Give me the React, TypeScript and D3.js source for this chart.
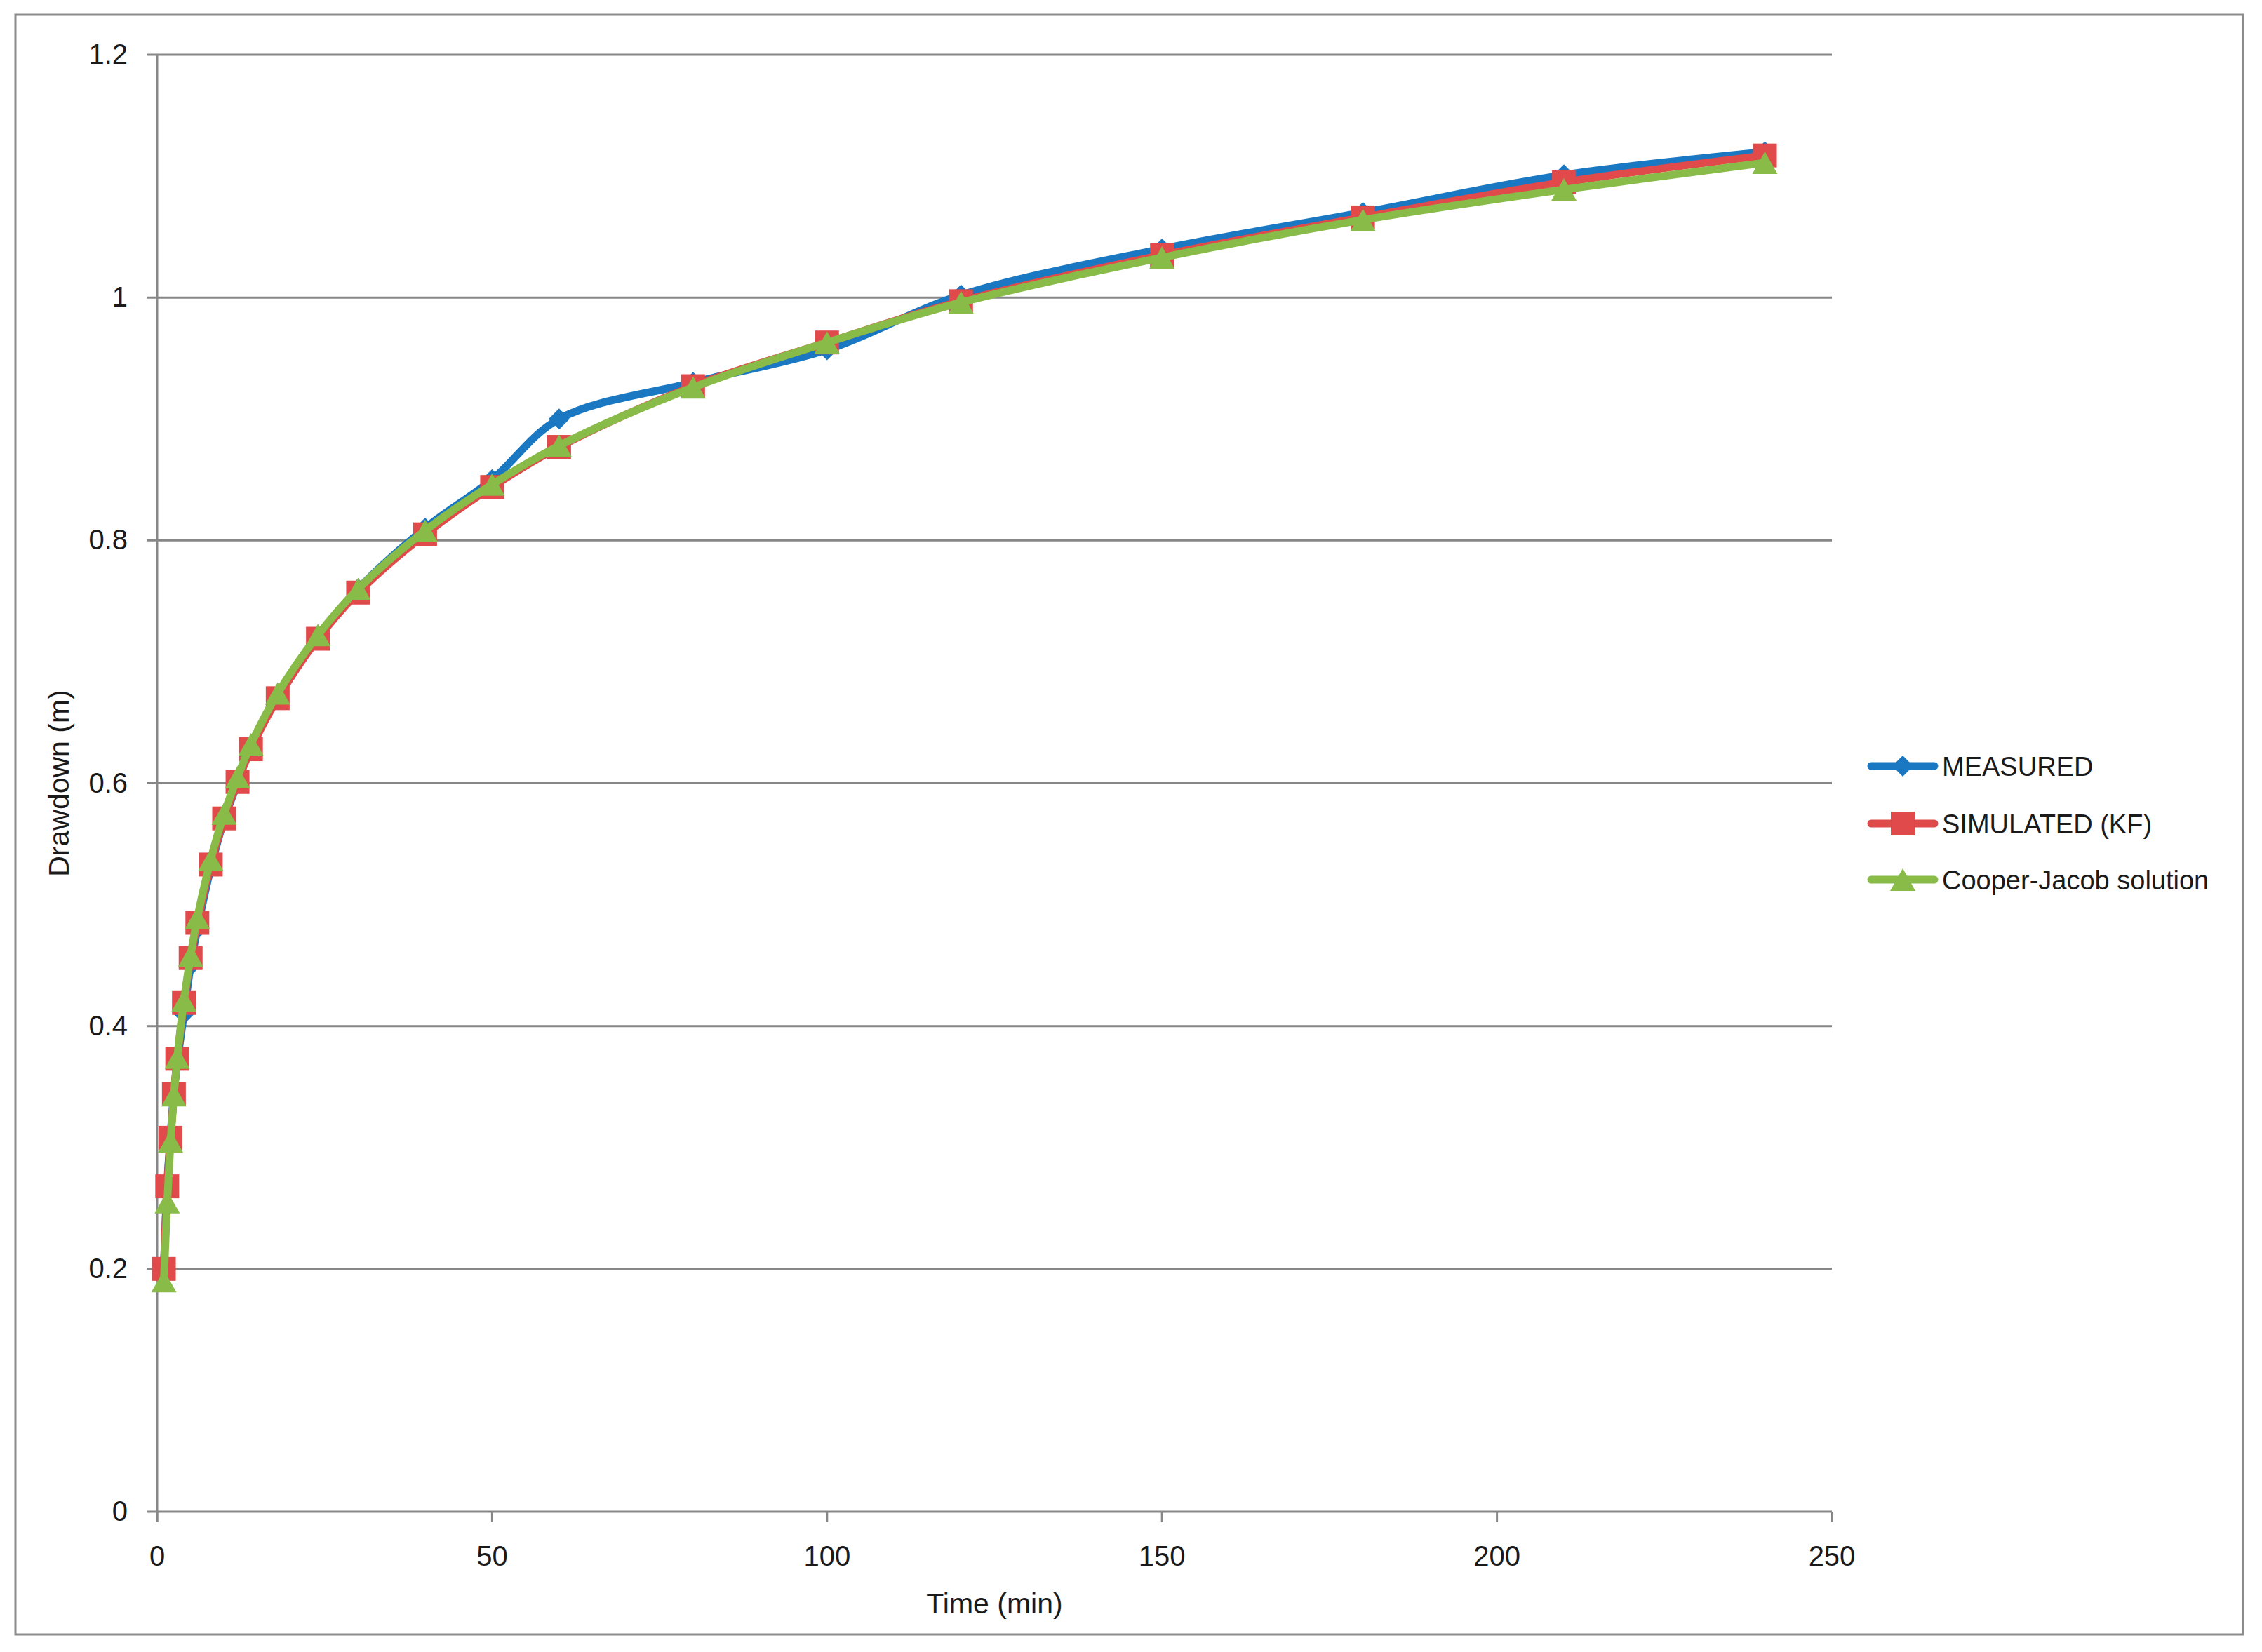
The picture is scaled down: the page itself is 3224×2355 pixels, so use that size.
import React from "react";
import * as d3 from "d3";

const times = [1, 1.5, 2, 2.5, 3, 4, 5, 6, 8, 10, 12, 14, 18, 24, 30, 40, 50, 60, 80, 100, 120, 150, 180, 210, 240];
const measured = [0.2, 0.27, 0.31, 0.345, 0.37, 0.41, 0.45, 0.48, 0.53, 0.57, 0.6, 0.63, 0.67, 0.72, 0.76, 0.81, 0.85, 0.9, 0.93, 0.957, 1.002, 1.04, 1.07, 1.101, 1.12];
const simulated = [0.2, 0.268, 0.308, 0.344, 0.373, 0.419, 0.456, 0.485, 0.533, 0.571, 0.601, 0.628, 0.67, 0.719, 0.757, 0.805, 0.844, 0.877, 0.927, 0.963, 0.997, 1.035, 1.066, 1.095, 1.117];
const cooperJacob = [0.19, 0.255, 0.305, 0.343, 0.374, 0.421, 0.458, 0.489, 0.537, 0.575, 0.605, 0.632, 0.674, 0.722, 0.76, 0.808, 0.846, 0.878, 0.926, 0.963, 0.996, 1.033, 1.064, 1.089, 1.111];
const seriesNames = ["MEASURED", "SIMULATED (KF)", "Cooper-Jacob solution"];
const xTicks = [0, 50, 100, 150, 200, 250];
const yTicks = [0, 0.2, 0.4, 0.6, 0.8, 1, 1.2];

const W = 3224;
const H = 2355;
const plot = { left: 224, right: 2611, top: 78, bottom: 2155 };
const colors = ["#1a78c2", "#e04a4a", "#88bb47"];
const gridColor = "#878787";
const font = "'Liberation Sans', Arial, sans-serif";

function Marker({ kind, x, y, color }: { kind: number; x: number; y: number; color: string }) {
  if (kind === 0) {
    const r = 15;
    return <path d={`M${x},${y - r}L${x + r},${y}L${x},${y + r}L${x - r},${y}Z`} fill={color} />;
  }
  if (kind === 1) {
    const s = 34;
    return <rect x={x - s / 2} y={y - s / 2} width={s} height={s} fill={color} />;
  }
  const w = 36;
  const h = 32;
  return <path d={`M${x},${y - h / 2}L${x + w / 2},${y + h / 2}L${x - w / 2},${y + h / 2}Z`} fill={color} />;
}

export default function App() {
  const x = d3.scaleLinear().domain([0, 250]).range([plot.left, plot.right]);
  const y = d3.scaleLinear().domain([0, 1.2]).range([plot.bottom, plot.top]);
  const all = [measured, simulated, cooperJacob];
  const line = d3
    .line<number>()
    .x((_, i) => x(times[i]))
    .y((d) => y(d))
    .curve(d3.curveCatmullRom.alpha(0.5));

  const legendRows = [1092, 1174, 1254];

  return (
    <svg width={W} height={H} style={{ position: "absolute", left: 0, top: 0, background: "#fff" }}>
      <rect x={0} y={0} width={W} height={H} fill="#fff" />
      <rect x={22} y={21} width={3175} height={2309} fill="none" stroke="#8c8c8c" strokeWidth={3} />
      {yTicks.map((t) => (
        <g key={"y" + t}>
          <line x1={plot.left - 15} x2={plot.right} y1={y(t)} y2={y(t)} stroke={gridColor} strokeWidth={3} />
          <text x={182} y={y(t) + 13} textAnchor="end" fontFamily={font} fontSize={40} fill="#1a1a1a">
            {d3.format("~g")(t)}
          </text>
        </g>
      ))}
      <line x1={plot.left} x2={plot.left} y1={plot.top} y2={plot.bottom + 15} stroke={gridColor} strokeWidth={3} />
      {xTicks.map((t) => (
        <g key={"x" + t}>
          <line x1={x(t)} x2={x(t)} y1={plot.bottom} y2={plot.bottom + 15} stroke={gridColor} strokeWidth={3} />
          <text x={x(t)} y={2232} textAnchor="middle" fontFamily={font} fontSize={40} fill="#1a1a1a">
            {t}
          </text>
        </g>
      ))}
      {all.map((vals, si) => (
        <g key={"s" + si}>
          <path d={line(vals) || ""} fill="none" stroke={colors[si]} strokeWidth={11} strokeLinecap="round" strokeLinejoin="round" />
          {vals.map((v, i) => (
            <Marker key={i} kind={si} x={x(times[i])} y={y(v)} color={colors[si]} />
          ))}
        </g>
      ))}
      <text x={(plot.left + plot.right) / 2} y={2300} textAnchor="middle" fontFamily={font} fontSize={41} fill="#1a1a1a">
        Time (min)
      </text>
      <text
        transform={`translate(98,${(plot.top + plot.bottom) / 2}) rotate(-90)`}
        textAnchor="middle"
        fontFamily={font}
        fontSize={41}
        fill="#1a1a1a"
      >
        Drawdown (m)
      </text>
      {seriesNames.map((name, si) => (
        <g key={"l" + si}>
          <line x1={2667} x2={2757} y1={legendRows[si]} y2={legendRows[si]} stroke={colors[si]} strokeWidth={11} strokeLinecap="round" />
          <Marker kind={si} x={2712} y={legendRows[si]} color={colors[si]} />
          <text x={2768} y={legendRows[si] + 14} fontFamily={font} fontSize={38} fill="#1a1a1a">
            {name}
          </text>
        </g>
      ))}
    </svg>
  );
}
